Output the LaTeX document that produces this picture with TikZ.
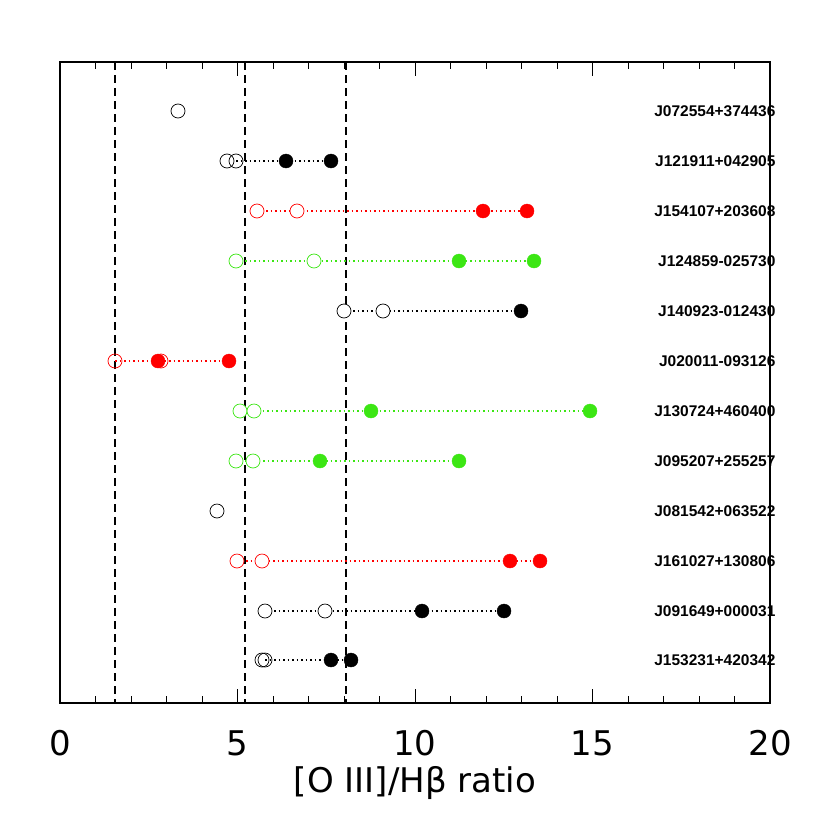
\documentclass[tikz,border=0pt]{standalone}
\usepackage{fontspec}
\setmainfont{Liberation Sans}
\newfontfamily\dvs{DejaVu Sans}
\begin{document}
\begin{tikzpicture}[x=1pt,y=-1pt,
  opn/.style={circle,draw=#1,line width=0.7pt,minimum size=14pt,inner sep=0pt},
  fil/.style={circle,draw=#1,fill=#1,minimum size=14pt,inner sep=0pt},
  conn/.style={draw=#1,line width=1.5pt,dash pattern=on 1.5pt off 3pt},
  lab/.style={anchor=east,font=\bfseries\fontsize{15.5}{17}\selectfont},
  vdash/.style={line width=1.2pt,dash pattern=on 8pt off 5pt}]
\definecolor{gr}{RGB}{60,230,20}
\definecolor{rd}{RGB}{255,0,0}
\useasboundingbox (0,0) rectangle (830,830);
\draw[vdash] (115,62) -- (115,703);
\draw[vdash] (245,62) -- (245,703);
\draw[vdash] (346,62) -- (346,703);
\foreach \i in {1,...,19}{
  \draw[line width=1pt] ({60+35.5*\i},703) -- ({60+35.5*\i},696);
  \draw[line width=1pt] ({60+35.5*\i},62) -- ({60+35.5*\i},69);}
\foreach \i/\t in {0/0,1/5,2/10,3/15,4/20}{
  \draw[line width=1pt] ({60+177.5*\i},703) -- ({60+177.5*\i},689);
  \draw[line width=1pt] ({60+177.5*\i},62) -- ({60+177.5*\i},76);
  \node[font=\dvs\fontsize{34}{38}\selectfont] (t\i) at ({60+177.5*\i},743) {\t};}
\draw[line width=1.8pt] (60,62) rectangle (770,703);
\node[font=\dvs\fontsize{34}{38}\selectfont] (xl) at (415,783) {[O III]/Hβ ratio};
% Row 1
\node[opn=black] (a1) at (178,111) {};
\node[lab] (l1) at (779,111) {J072554+374436};
% Row 2
\draw[conn=black] (236,161) -- (331,161);
\node[fil=black] (b3) at (286,161) {}; \node[fil=black] (b4) at (331,161) {};
\node[opn=black] (b1) at (227,161) {}; \node[opn=black] (b2) at (236,161) {};
\node[lab] (l2) at (779,161) {J121911+042905};
% Row 3
\draw[conn=rd] (257,211) -- (527,211);
\node[fil=rd] (c3) at (483,211) {}; \node[fil=rd] (c4) at (527,211) {};
\node[opn=rd,fill=white] (c1) at (257,211) {}; \node[opn=rd,fill=white] (c2) at (297,211) {};
\node[lab] (l3) at (779,211) {J154107+203608};
% Row 4
\draw[conn=gr] (236,261) -- (534,261);
\node[fil=gr] (d3) at (459,261) {}; \node[fil=gr] (d4) at (534,261) {};
\node[opn=gr,fill=white] (d1) at (236,261) {}; \node[opn=gr,fill=white] (d2) at (314,261) {};
\node[lab] (l4) at (779,261) {J124859-025730};
% Row 5
\draw[conn=black] (344,311) -- (521,311);
\node[fil=black] (e3) at (521,311) {};
\node[opn=black,fill=white] (e1) at (344,311) {}; \node[opn=black,fill=white] (e2) at (383,311) {};
\node[lab] (l5) at (779,311) {J140923-012430};
% Row 6
\draw[conn=rd] (115,361) -- (229,361);
\node[fil=rd] (f3) at (158,361) {}; \node[fil=rd] (f4) at (229,361) {};
\node[opn=rd] (f1) at (115,361) {}; \node[opn=rd] (f2) at (161,361) {};
\node[lab] (l6) at (779,361) {J020011-093126};
% Row 7
\draw[conn=gr] (240,411) -- (590,411);
\node[fil=gr] (g3) at (371,411) {}; \node[fil=gr] (g4) at (590,411) {};
\node[opn=gr,fill=white] (g1) at (240,411) {}; \node[opn=gr,fill=white] (g2) at (254,411) {};
\node[lab] (l7) at (779,411) {J130724+460400};
% Row 8
\draw[conn=gr] (236,461) -- (459,461);
\node[fil=gr] (h3) at (320,461) {}; \node[fil=gr] (h4) at (459,461) {};
\node[opn=gr,fill=white] (h1) at (236,461) {}; \node[opn=gr,fill=white] (h2) at (253,461) {};
\node[lab] (l8) at (779,461) {J095207+255257};
% Row 9
\node[opn=black] (i1) at (217,511) {};
\node[lab] (l9) at (779,511) {J081542+063522};
% Row 10
\draw[conn=rd] (237,561) -- (540,561);
\node[fil=rd] (j3) at (510,561) {}; \node[fil=rd] (j4) at (540,561) {};
\node[opn=rd,fill=white] (j1) at (237,561) {}; \node[opn=rd,fill=white] (j2) at (262,561) {};
\node[lab] (l10) at (779,561) {J161027+130806};
% Row 11
\draw[conn=black] (265,611) -- (504,611);
\node[fil=black] (k3) at (422,611) {}; \node[fil=black] (k4) at (504,611) {};
\node[opn=black,fill=white] (k1) at (265,611) {}; \node[opn=black,fill=white] (k2) at (325,611) {};
\node[lab] (l11) at (779,611) {J091649+000031};
% Row 12
\draw[conn=black] (265,660) -- (351,660);
\node[fil=black] (m3) at (331,660) {}; \node[fil=black] (m4) at (351,660) {};
\node[opn=black] (m1) at (262,660) {}; \node[opn=black] (m2) at (265,660) {};
\node[lab] (l12) at (779,660) {J153231+420342};
\end{tikzpicture}
\end{document}
